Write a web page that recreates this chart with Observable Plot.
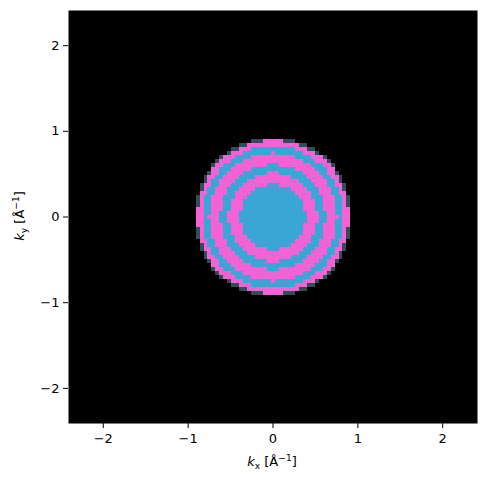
<!DOCTYPE html>
<html><head><meta charset="utf-8">
<script src="https://cdn.jsdelivr.net/npm/d3@7"></script>
<script src="https://cdn.jsdelivr.net/npm/@observablehq/plot@0.6"></script>
<style>body{margin:0;background:#fff} svg{display:block}</style>
</head><body><div id="chart"></div>
<script>
// ---- data ----
const tickValues = [-2, -1, 0, 1, 2];
const kExtent = [-2.41, 2.41];          // Å^-1, both axes
const gridSize = 103;                     // cells per side
// concentric bands, outer radius (Å^-1) and kind, from centre outward
const bandOuterRadius = [0.385, 0.52, 0.615, 0.75, 0.83, 0.9, 0.93];
const bandKind        = ["blue", "pink", "blue", "pink", "blue", "pink", "edge"];
const kindNames  = ["outside", "edge", "pink", "blue"];
const kindColors = ["#000000", "#2f4e58", "#f462d6", "#3aa6d5"];

// ---- build grid of cells ----
const dk = (kExtent[1] - kExtent[0]) / gridSize;
const cells = [];
for (let i = 0; i < gridSize; i++) {
  for (let j = 0; j < gridSize; j++) {
    const kx = kExtent[0] + (i + 0.5) * dk;
    const ky = kExtent[0] + (j + 0.5) * dk;
    const r = Math.hypot(kx, ky);
    let kind = "outside";
    for (let b = 0; b < bandOuterRadius.length; b++) {
      if (r < bandOuterRadius[b]) { kind = bandKind[b]; break; }
    }
    cells.push({kx, ky, kind});
  }
}

const font = "DejaVu Sans, sans-serif";
const plot = Plot.plot({
  width: 486, height: 481,
  marginLeft: 68, marginRight: 9, marginTop: 10, marginBottom: 58,
  style: {fontFamily: font, fontSize: "13px", background: "white", color: "black"},
  x: {domain: kExtent, ticks: tickValues, label: null},
  y: {domain: kExtent, ticks: tickValues, label: null},
  color: {type: "ordinal", domain: kindNames, range: kindColors},
  marks: [
    Plot.raster(cells, {
      x: "kx", y: "ky", fill: "kind",
      width: gridSize, height: gridSize,
      x1: kExtent[0], x2: kExtent[1], y1: kExtent[0], y2: kExtent[1],
      imageRendering: "pixelated"
    }),
    Plot.axisX({ticks: tickValues, tickSize: 5, tickPadding: 5, fontSize: 13, label: null, tickFormat: d3.format("d")}),
    Plot.axisY({ticks: tickValues, tickSize: 5, tickPadding: 4, fontSize: 13, label: null, tickFormat: d3.format("d")})
  ]
});
document.getElementById("chart").appendChild(plot);

// axis titles with sub/superscripts
const svg = d3.select(plot);
function addLabel(sel, sub) {
  sel.append("tspan").attr("font-style", "italic").text("k");
  sel.append("tspan").attr("font-size", "70%").attr("dy", 3).text(sub);
  sel.append("tspan").attr("dy", -3).text(" [Å");
  sel.append("tspan").attr("font-size", "70%").attr("dy", -5).text("−1");
  sel.append("tspan").attr("dy", 5).text("]");
}
const xl = svg.append("text")
  .attr("x", 272).attr("y", 466)
  .attr("text-anchor", "middle").attr("font-family", font).attr("font-size", 13).attr("fill", "black");
addLabel(xl, "x");
const yl = svg.append("text")
  .attr("transform", "translate(24,216) rotate(-90)")
  .attr("text-anchor", "middle").attr("font-family", font).attr("font-size", 13).attr("fill", "black");
addLabel(yl, "y");
</script>
</body></html>
